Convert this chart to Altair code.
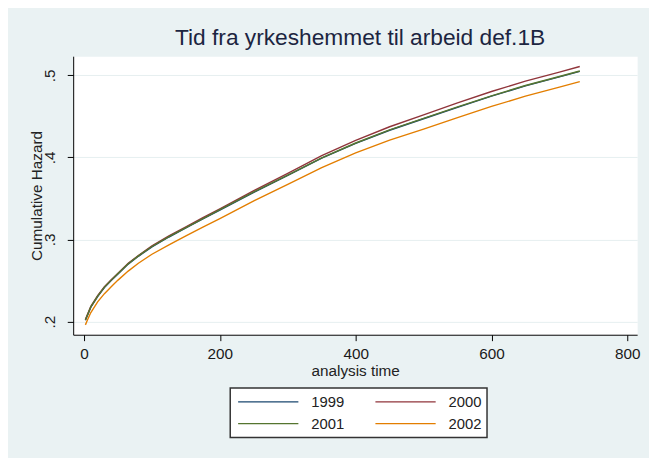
import altair as alt
import pandas as pd

title_text = "Tid fra yrkeshemmet til arbeid def.1B"
years = ["1999", "2000", "2001", "2002"]
colors = ["#1a476f", "#90353b", "#55752f", "#e37e00"]

times = [2, 5, 10, 20, 30, 40, 50, 65, 80, 100, 125, 150, 175, 200,
         250, 300, 350, 400, 450, 500, 550, 600, 650, 700, 730]

h1999 = [.2015, .2075, .2175, .2305, .2415, .2500, .2580, .2700, .2795, .2910,
         .3030, .3140, .3250, .3358, .3575, .3780, .3990, .4170, .4330, .4470,
         .4610, .4745, .4870, .4980, .5047]
h2000 = [.2025, .2085, .2185, .2315, .2425, .2510, .2590, .2710, .2805, .2922,
         .3043, .3154, .3265, .3373, .3595, .3805, .4022, .4208, .4373, .4518,
         .4663, .4802, .4928, .5039, .5107]
h2001 = [.2020, .2080, .2180, .2310, .2420, .2505, .2585, .2705, .2800, .2915,
         .3035, .3145, .3255, .3363, .3580, .3785, .3995, .4175, .4335, .4475,
         .4615, .4750, .4875, .4985, .5052]
h2002 = [.1960, .2020, .2110, .2240, .2340, .2425, .2505, .2615, .2710, .2820,
         .2935, .3045, .3150, .3253, .3470, .3670, .3875, .4055, .4210, .4345,
         .4485, .4620, .4745, .4855, .4922]

x_ticks = [0, 200, 400, 600, 800]
y_ticks = [0.2, 0.3, 0.4, 0.5]

rows = []
for yr, vals in zip(years, [h1999, h2000, h2001, h2002]):
    for t, v in zip(times, vals):
        rows.append({"t": t, "h": v, "year": yr})
df = pd.DataFrame(rows)

FONT = "Liberation Sans"

chart = alt.Chart(df).mark_line(strokeWidth=1.4).encode(
    x=alt.X("t:Q",
            scale=alt.Scale(domain=[-16, 814.5], nice=False, zero=False),
            axis=alt.Axis(values=x_ticks, title="analysis time", grid=False,
                          format="d", labelBaseline="alphabetic", labelPadding=18.5,
                          titleBaseline="alphabetic", titleY=41)),
    y=alt.Y("h:Q",
            scale=alt.Scale(domain=[0.184, 0.5232], nice=False, zero=False),
            axis=alt.Axis(values=y_ticks, title="Cumulative Hazard", grid=True,
                          labelExpr="substring(format(datum.value, '.1f'), 1)",
                          labelAngle=-90, labelAlign="center", labelBaseline="alphabetic",
                          labelPadding=13, titleBaseline="alphabetic", titleX=-32,
                          titleY=141, titleAngle=270, titleAlign="center")),
    color=alt.Color("year:N",
                    scale=alt.Scale(domain=years, range=colors),
                    legend=alt.Legend(title=None, orient="none", legendX=159, legendY=336,
                                      direction="horizontal", columns=2,
                                      symbolType="stroke", symbolSize=3721,
                                      symbolStrokeWidth=1.2, clipHeight=18, rowPadding=4,
                                      columnPadding=28, labelOffset=12, padding=5,
                                      symbolOffset=2, labelFontSize=15, labelFont=FONT,
                                      labelColor="#222222", fillColor="white",
                                      strokeColor="#333333")),
).properties(
    width=571,
    height=282,
    autosize=alt.AutoSizeParams(type="none"),
    padding={"left": 66, "top": 46, "right": 12, "bottom": 122},
    title=alt.TitleParams(title_text, fontSize=23, font=FONT, fontWeight="normal",
                          color="#1c2541", anchor="middle", offset=3,
                          baseline="bottom", dx=5, dy=20),
).configure(
    background="#eaf2f3",
).configure_view(
    fill="white",
    stroke="transparent",
).configure_axis(
    domainColor="#000000",
    domainWidth=1,
    tickColor="#000000",
    tickSize=6,
    labelFont=FONT,
    labelFontSize=15.5,
    labelColor="#1a1a1a",
    titleFont=FONT,
    titleFontSize=15.5,
    titleFontWeight="normal",
    titleColor="#222222",
    gridColor="#e6eff0",
    gridWidth=1,
).configure_legend(
    strokeWidth=1.5,
)

chart.save("out.html", embed_options={"renderer": "svg", "actions": False})
